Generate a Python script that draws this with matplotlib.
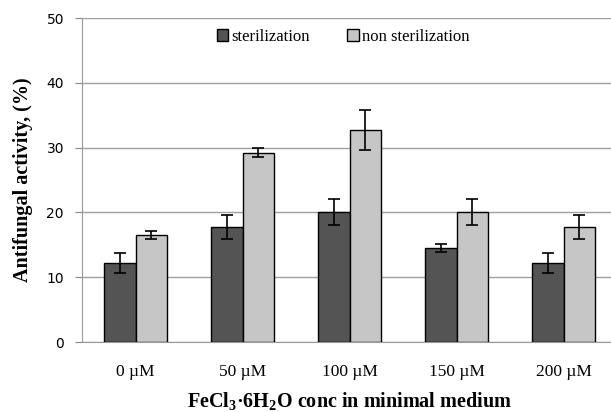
import matplotlib
matplotlib.use("Agg")
import matplotlib.pyplot as plt
import numpy as np

# data
categories = ["0 µM", "50 µM", "100 µM", "150 µM", "200 µM"]
sterilization = [12.2, 17.7, 20.0, 14.5, 12.2]
sterilization_err = [1.6, 1.85, 2.0, 0.55, 1.6]
non_sterilization = [16.5, 29.2, 32.7, 20.0, 17.7]
non_sterilization_err = [0.6, 0.7, 3.1, 2.0, 1.85]

plt.rcParams['font.family'] = ['Liberation Serif', 'DejaVu Serif']
plt.rcParams['mathtext.fontset'] = 'custom'
plt.rcParams['mathtext.rm'] = 'Liberation Serif:bold'
plt.rcParams['mathtext.bf'] = 'Liberation Serif:bold'

fig = plt.figure(figsize=(6.11, 4.12), dpi=100)
ax = fig.add_axes([82 / 611, 1 - 342 / 412, 535 / 611, 324 / 412])

x = np.arange(len(categories))
w = 0.29
ax.bar(x - w / 2, sterilization, w, color="#545454", edgecolor="black", linewidth=1,
       yerr=sterilization_err, capsize=4, error_kw=dict(ecolor="black", elinewidth=1.2, capthick=1.2),
       label="sterilization", zorder=3)
ax.bar(x + w / 2, non_sterilization, w, color="#c6c6c6", edgecolor="black", linewidth=1,
       yerr=non_sterilization_err, capsize=4, error_kw=dict(ecolor="black", elinewidth=1.2, capthick=1.2),
       label="non sterilization", zorder=3)

ax.set_xlim(-0.5, len(categories) - 0.5)
ax.set_ylim(0, 50)
ax.set_yticks(range(0, 51, 10))
ax.set_xticks(x)
ax.set_xticklabels(categories, fontsize=12.5)
ax.tick_params(axis='x', length=0, pad=16)
ax.tick_params(axis='y', length=5, color="#888888", pad=8)
for t in ax.get_yticklabels():
    t.set_fontfamily('DejaVu Sans')
    t.set_fontsize(10)

ax.grid(axis='y', color="#a0a0a0", linewidth=1, zorder=0)
for s in ["top", "right"]:
    ax.spines[s].set_visible(False)
ax.spines["left"].set_color("#999999")
ax.spines["bottom"].set_color("#999999")

ax.set_ylabel("Antifungal activity, (%)", fontsize=14.5, fontweight="bold", va="center")
ax.yaxis.set_label_coords(-0.110, 0.5)
ax.set_xlabel("FeCl$_3$·6H$_2$O conc in minimal medium", fontsize=14.5, fontweight="bold", va="center")
ax.xaxis.set_label_coords(0.5, -0.185)

ax.legend(loc="center", bbox_to_anchor=(0.488, 0.941), ncol=2, frameon=False, fontsize=12,
          handlelength=0.7, handleheight=0.7, handletextpad=0.2, columnspacing=2.2)

fig.savefig("out.png", dpi=100)
